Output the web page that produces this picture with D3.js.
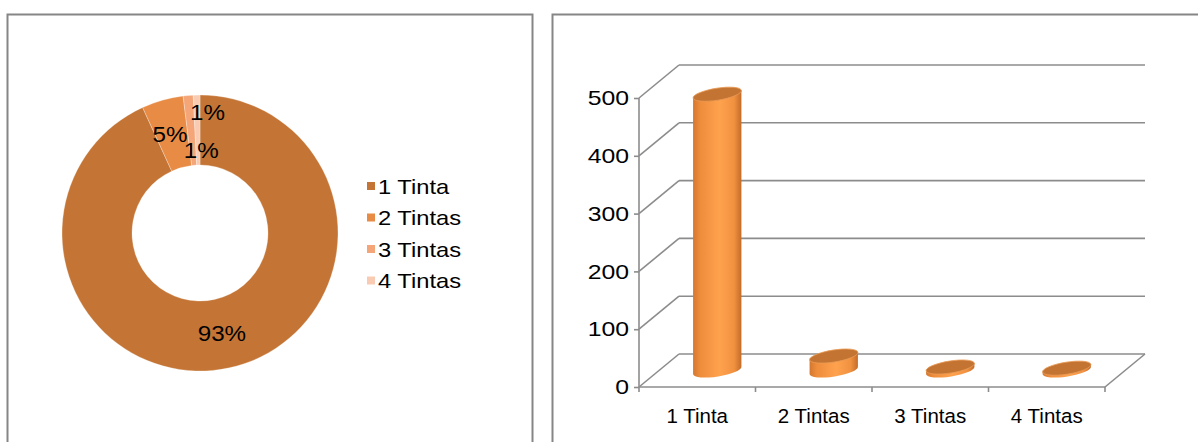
<!DOCTYPE html>
<html>
<head>
<meta charset="utf-8">
<script src="https://cdn.jsdelivr.net/npm/d3@7"></script>
<style>
  body { margin: 0; background: #fff; }
  svg { display: block; font-family: "Liberation Sans", Arial, sans-serif; }
</style>
</head>
<body>
<svg id="chart" width="1198" height="442"></svg>
<script>
// data
const categories = ["1 Tinta", "2 Tintas", "3 Tintas", "4 Tintas"]
const counts = [478, 25, 6, 4]
const donutColors = ["#c47535", "#e88b45", "#f4a679", "#f9cbb3"]
const yTicks = [0, 100, 200, 300, 400, 500]

const svg = d3.select("#chart")

// the source text is drawn a bit wide, so stretch glyphs horizontally
function stretch(sel, f) {
  sel.each(function() {
    const w = this.getComputedTextLength()
    d3.select(this).attr("textLength", w * f).attr("lengthAdjust", "spacingAndGlyphs")
  })
}

// panel frames
svg.append("rect").attr("x", 7.5).attr("y", 14.5).attr("width", 525).attr("height", 450)
  .attr("fill", "none").attr("stroke", "#868686").attr("stroke-width", 2)
svg.append("rect").attr("x", 552.5).attr("y", 14.5).attr("width", 700).attr("height", 450)
  .attr("fill", "none").attr("stroke", "#868686").attr("stroke-width", 2)

// ---- donut ----
const total = d3.sum(counts)
const pct = d3.format(".0%")
const pie = d3.pie().sort(null).value(d => d)
const arcs = pie(counts)
const outerR = 138, innerR = 68
const arc = d3.arc().innerRadius(innerR).outerRadius(outerR)
const donut = svg.append("g").attr("transform", "translate(200,233)")

donut.selectAll("path").data(arcs).join("path")
  .attr("d", arc)
  .attr("fill", (d, i) => donutColors[i])
  .attr("stroke", "#fff").attr("stroke-opacity", 0.35).attr("stroke-width", 0.8)

// small slices get pushed apart like the office label layout does
const labelShift = [[0, 0], [-2, 0], [10, 20], [10, -18]]
const donutLabels = donut.selectAll("text").data(arcs).join("text")
  .attr("transform", (d, i) => {
    const c = arc.centroid(d)
    return `translate(${c[0] + labelShift[i][0]},${c[1] + labelShift[i][1]})`
  })
  .attr("text-anchor", "middle").attr("dy", "0.35em")
  .attr("font-size", 22).attr("fill", "#000")
  .text(d => pct(d.data / total))
stretch(donutLabels, 1.1)

const legend = svg.append("g").attr("transform", "translate(367,186)")
const legRow = legend.selectAll("g").data(categories).join("g")
  .attr("transform", (d, i) => `translate(0,${i * 31.5})`)
legRow.append("rect").attr("x", 0).attr("y", -4).attr("width", 8).attr("height", 8)
  .attr("fill", (d, i) => donutColors[i])
const legText = legRow.append("text").attr("x", 11).attr("dy", "0.36em")
  .attr("font-size", 21).attr("fill", "#000").text(d => d)
stretch(legText, 1.13)

// ---- 3d cylinder bars ----
const depth = { dx: 40, dy: -33 }
const x = d3.scaleBand().domain(categories).range([639, 1105]).padding(0)
const y = d3.scaleLinear().domain([0, 500]).range([387, 98])
const grid = svg.append("g").attr("stroke", "#8c8c8c").attr("stroke-width", 1.6).attr("fill", "none")

// back wall gridlines and side wall diagonals
yTicks.forEach(t => {
  grid.append("line")
    .attr("x1", x.range()[0] + depth.dx).attr("x2", x.range()[1] + depth.dx)
    .attr("y1", y(t) + depth.dy).attr("y2", y(t) + depth.dy)
  grid.append("line")
    .attr("x1", x.range()[0]).attr("y1", y(t))
    .attr("x2", x.range()[0] + depth.dx).attr("y2", y(t) + depth.dy)
})
// floor right diagonal
grid.append("line").attr("x1", x.range()[1]).attr("y1", y(0))
  .attr("x2", x.range()[1] + depth.dx).attr("y2", y(0) + depth.dy)

const axisG = svg.append("g")
const yAxis = axisG.append("g").attr("transform", `translate(${x.range()[0]},0)`)
  .call(d3.axisLeft(y).tickValues(yTicks).tickSize(5).tickPadding(5))
const xAxis = axisG.append("g").attr("transform", `translate(0,${y(0)})`)
  .call(d3.axisBottom(x).tickSize(0).tickPadding(21))
// category boundary ticks
xAxis.selectAll(".bound").data(categories.concat([null])).join("line")
  .attr("class", "bound")
  .attr("x1", (d, i) => x.range()[0] + i * x.bandwidth())
  .attr("x2", (d, i) => x.range()[0] + i * x.bandwidth())
  .attr("y1", 0).attr("y2", 5)
axisG.selectAll(".domain, .tick line, .bound").attr("stroke", "#8c8c8c").attr("stroke-width", 1.6)
yAxis.select(".domain").attr("d", `M0,${y(500)}V${y(0)}`)
xAxis.select(".domain").attr("d", `M${x.range()[0]},0H${x.range()[1]}`)
const yLab = yAxis.selectAll("text").attr("font-size", 21).attr("fill", "#000")
  .attr("font-family", "Liberation Sans, Arial, sans-serif")
stretch(yLab, 1.18)
xAxis.selectAll("text").attr("font-size", 20.5).attr("fill", "#000")
  .attr("font-family", "Liberation Sans, Arial, sans-serif")

const defs = svg.append("defs")
const grad = defs.append("linearGradient").attr("id", "cylSide")
  .attr("x1", "0%").attr("x2", "100%").attr("y1", "0%").attr("y2", "0%")
grad.append("stop").attr("offset", "0%").attr("stop-color", "#d4772f")
grad.append("stop").attr("offset", "15%").attr("stop-color", "#ee8d3c")
grad.append("stop").attr("offset", "55%").attr("stop-color", "#ffa24e")
grad.append("stop").attr("offset", "85%").attr("stop-color", "#f0913f")
grad.append("stop").attr("offset", "100%").attr("stop-color", "#c46b2a")

const rx = x.bandwidth() * 0.21, ry = 6, tilt = -9
const rad = tilt * Math.PI / 180
const ex = rx * Math.cos(rad), ey = rx * Math.sin(rad)

const bars = svg.append("g").selectAll("g").data(categories).join("g")
bars.each(function(c, i) {
  const g = d3.select(this)
  const cx = x(c) + x.bandwidth() / 2 + depth.dx / 2
  const base = y(0) + depth.dy / 2
  const top = base - (y(0) - y(counts[i]))
  g.append("path")
    .attr("d", `M${cx - ex},${base - ey} L${cx - ex},${top - ey} L${cx + ex},${top + ey} ` +
      `L${cx + ex},${base + ey} A${rx},${ry} ${tilt} 0 1 ${cx - ex},${base - ey} Z`)
    .attr("fill", "url(#cylSide)")
  g.append("ellipse")
    .attr("cx", cx).attr("cy", top).attr("rx", rx).attr("ry", ry)
    .attr("transform", `rotate(${tilt},${cx},${top})`)
    .attr("fill", "#c47432").attr("stroke", "#e99a55").attr("stroke-width", 0.8)
})
</script>
</body>
</html>
